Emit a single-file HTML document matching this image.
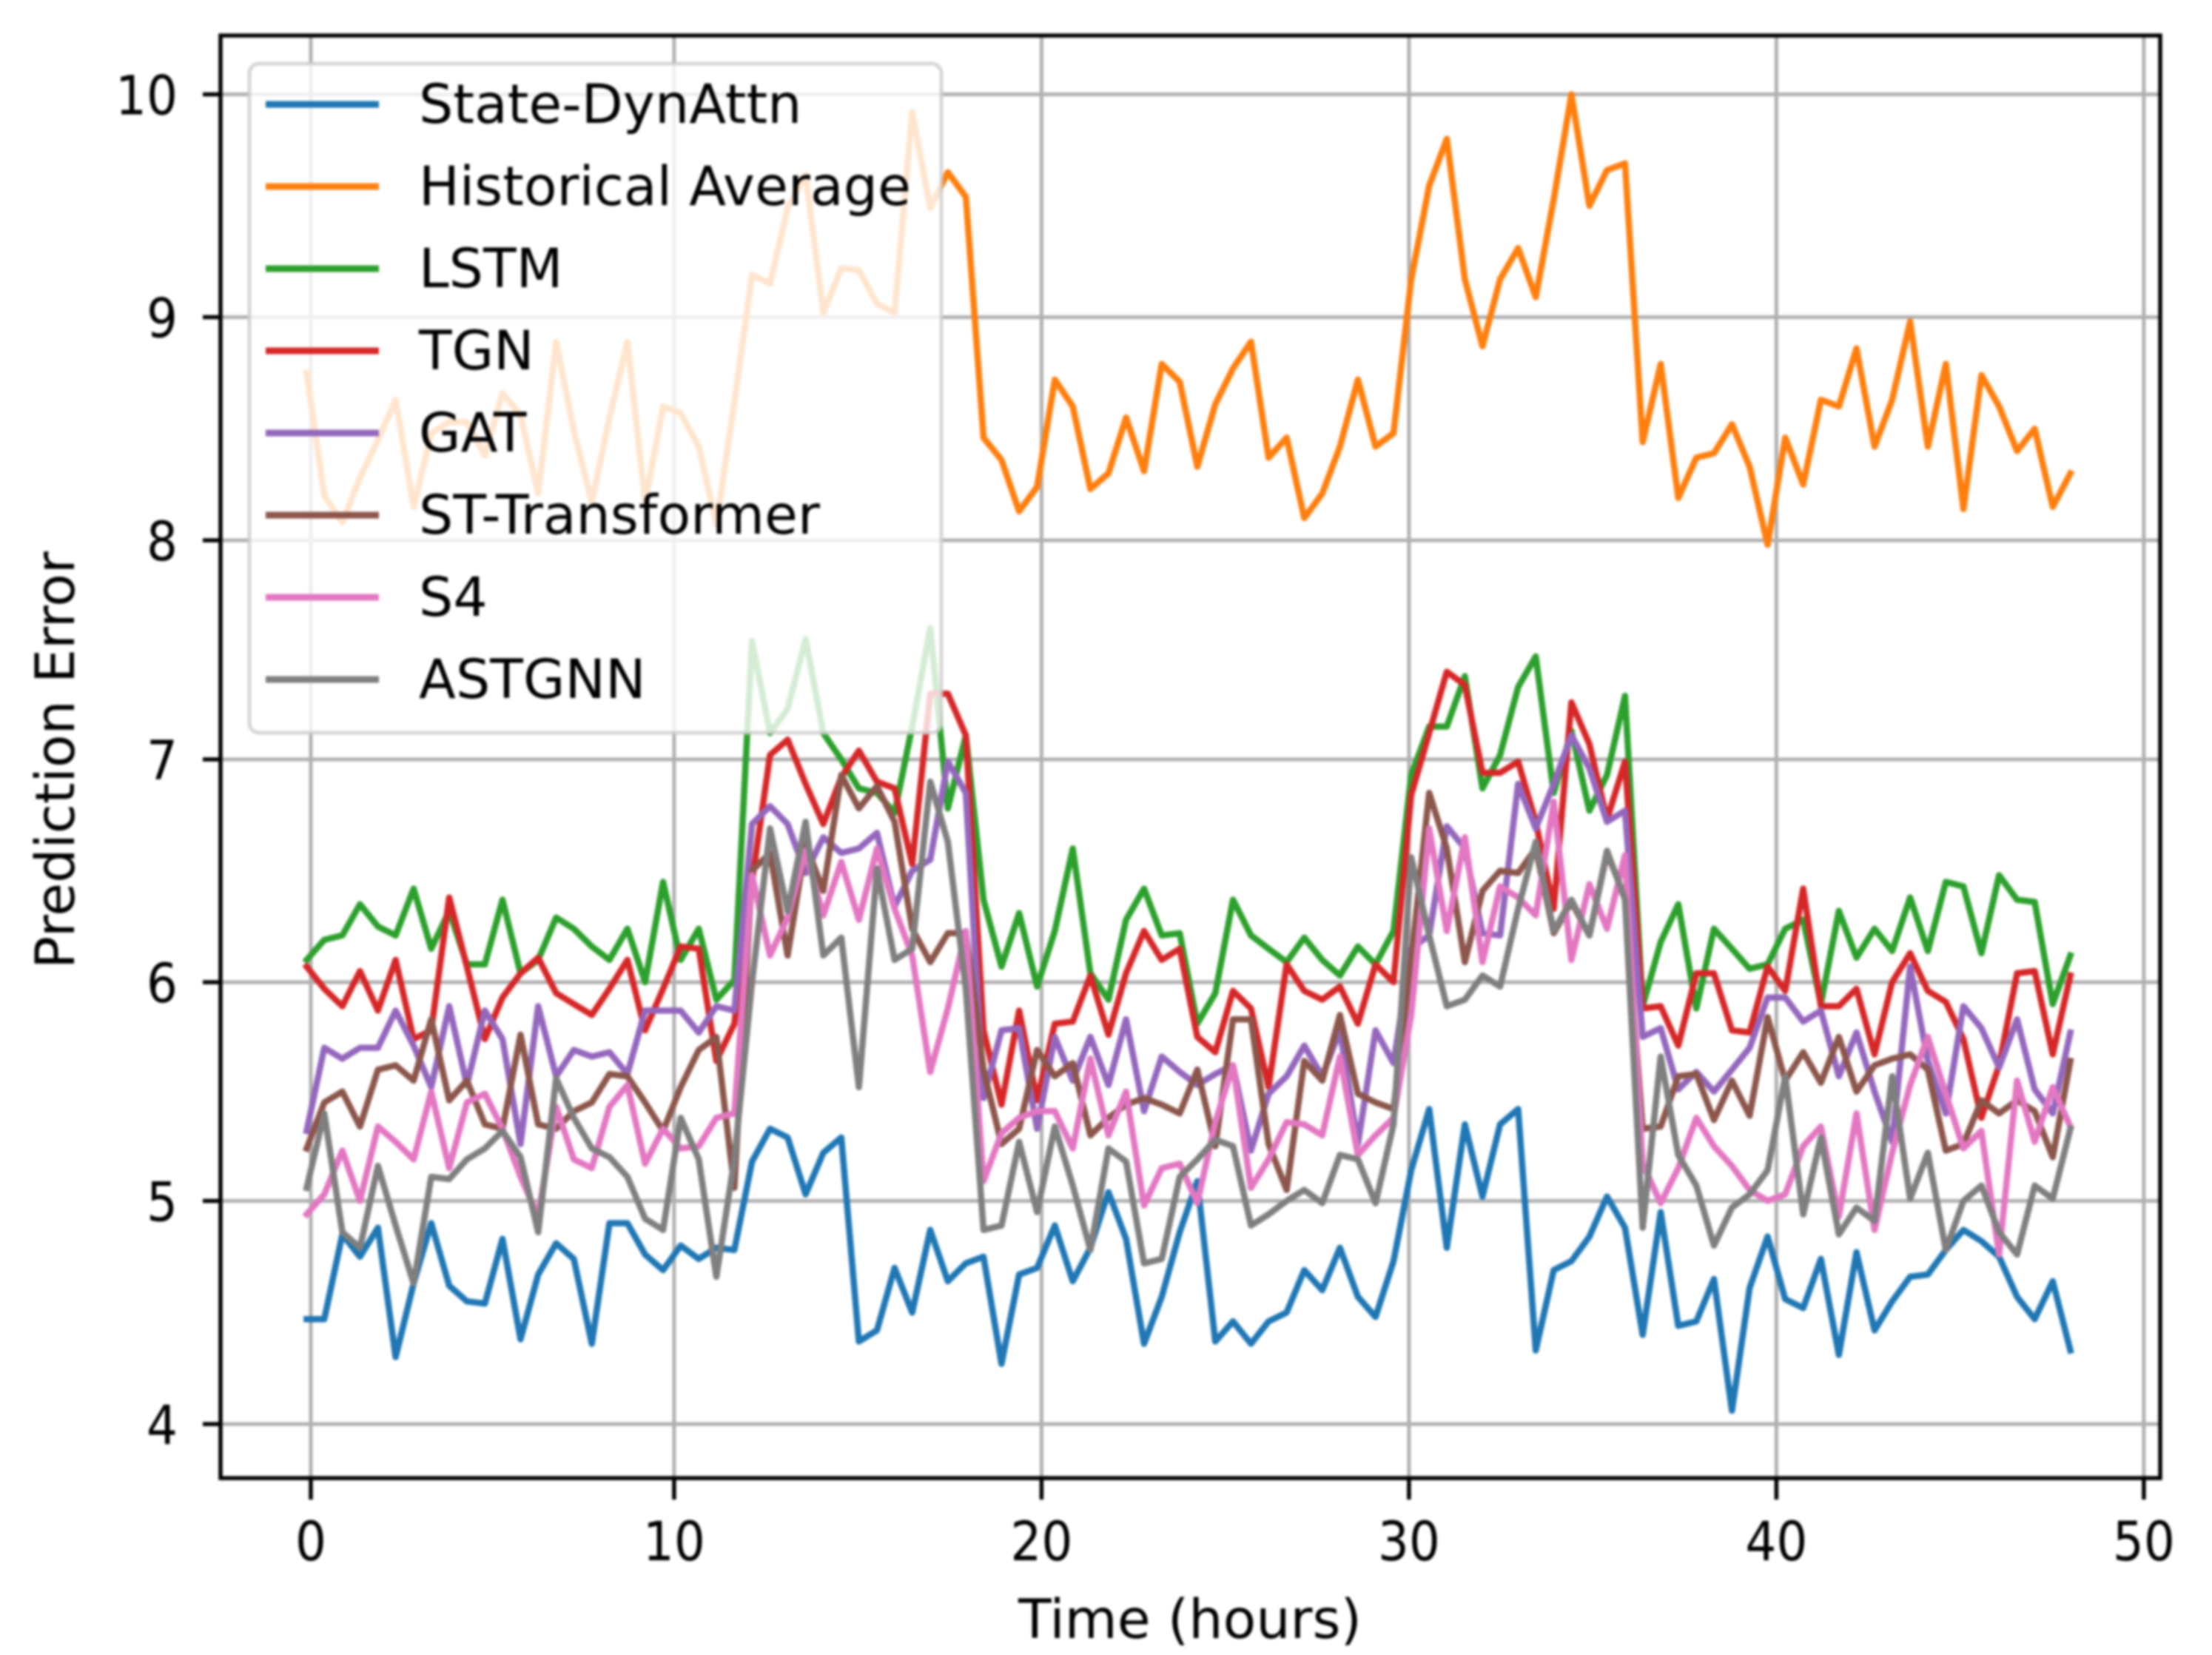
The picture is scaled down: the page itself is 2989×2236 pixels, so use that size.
<!DOCTYPE html>
<html lang="en">
<head>
<meta charset="utf-8">
<title>Prediction Error over Time</title>
<style>
html,body{margin:0;padding:0;background:#fff;}
#chart{display:block;width:2989px;height:2236px;filter:blur(1.6px);}
text{font-family:"DejaVu Sans","Liberation Sans",sans-serif;font-size:73px;fill:#000;}
</style>
</head>
<body>
<svg id="chart" xmlns="http://www.w3.org/2000/svg" width="2989" height="2236" viewBox="0 0 2989 2236">
  <rect x="0" y="0" width="2989" height="2236" fill="#fff"/>
  <g id="grid"></g>
  <g id="series"></g>
  <g id="ticks"></g>
  <g id="spines" fill="none" stroke="#000" stroke-width="5.5">
    <rect x="298" y="48" width="2621" height="1949"/>
  </g>
  <g id="legend">
    <rect x="337" y="86" width="935" height="904" rx="13" ry="13" fill="#fff" fill-opacity="0.8" stroke="#ccc" stroke-opacity="0.8" stroke-width="5"/>
  </g>
  <text x="1608" y="2213" text-anchor="middle">Time (hours)</text>
  <text transform="translate(100 1027) rotate(-90)" text-anchor="middle">Prediction Error</text>
</svg>
<script>
const hours=[0,.48,.97,1.45,1.94,2.42,2.91,3.39,3.88,4.36,4.85,5.33,5.82,6.30,6.79,7.27,7.76,8.24,8.73,9.21,9.70,10.18,10.67,11.15,11.64,12.12,12.61,13.09,13.58,14.06,14.55,15.03,15.52,16.00,16.48,16.97,17.45,17.94,18.42,18.91,19.39,19.88,20.36,20.85,21.33,21.82,22.30,22.79,23.27,23.76,24.24,24.73,25.21,25.70,26.18,26.67,27.15,27.64,28.12,28.61,29.09,29.58,30.06,30.55,31.03,31.52,32.00,32.48,32.97,33.45,33.94,34.42,34.91,35.39,35.88,36.36,36.85,37.33,37.82,38.30,38.79,39.27,39.76,40.24,40.73,41.21,41.70,42.18,42.67,43.15,43.64,44.12,44.61,45.09,45.58,46.06,46.55,47.03,47.52,48];
const xTickLabels=[0,10,20,30,40,50];
const yTickLabels=[4,5,6,7,8,9,10];
const seriesNames=["State-DynAttn","Historical Average","LSTM","TGN","GAT","ST-Transformer","S4","ASTGNN"];
const stateDynAttn=[4.47,4.47,4.85,4.75,4.88,4.30,4.63,4.90,4.62,4.55,4.54,4.83,4.38,4.67,4.81,4.74,4.36,4.90,4.90,4.76,4.69,4.80,4.74,4.79,4.78,5.18,5.33,5.29,5.03,5.22,5.29,4.37,4.42,4.70,4.50,4.87,4.64,4.72,4.75,4.27,4.67,4.70,4.89,4.64,4.79,5.04,4.83,4.36,4.57,4.86,5.09,4.37,4.46,4.36,4.46,4.50,4.69,4.60,4.79,4.57,4.48,4.73,5.14,5.42,4.79,5.35,5.02,5.35,5.42,4.33,4.69,4.73,4.84,5.02,4.88,4.40,4.95,4.44,4.46,4.65,4.06,4.61,4.84,4.56,4.52,4.74,4.31,4.77,4.42,4.55,4.66,4.67,4.78,4.87,4.82,4.75,4.57,4.47,4.64,4.33];
const historicalAverage=[8.75,8.20,8.08,8.28,8.45,8.63,8.15,8.48,8.53,8.53,8.38,8.66,8.56,8.21,8.89,8.49,8.17,8.55,8.89,8.17,8.60,8.57,8.42,8.07,8.62,9.19,9.15,9.49,9.64,9.02,9.22,9.21,9.06,9.02,9.92,9.49,9.65,9.54,8.46,8.36,8.13,8.24,8.72,8.60,8.23,8.30,8.55,8.31,8.79,8.71,8.33,8.61,8.77,8.89,8.37,8.46,8.10,8.21,8.42,8.72,8.42,8.48,9.17,9.59,9.80,9.17,8.87,9.17,9.31,9.09,9.53,10.0,9.50,9.66,9.69,8.44,8.79,8.19,8.37,8.39,8.52,8.33,7.98,8.46,8.25,8.63,8.60,8.86,8.42,8.63,8.98,8.42,8.79,8.14,8.74,8.60,8.40,8.50,8.15,8.30];
const lstm=[6.10,6.19,6.21,6.35,6.25,6.21,6.42,6.15,6.32,6.08,6.08,6.37,6.04,6.10,6.29,6.24,6.16,6.10,6.24,6.00,6.45,6.10,6.24,5.92,6.01,7.54,7.12,7.23,7.55,7.12,7.00,6.87,6.85,6.76,7.15,7.60,6.78,7.11,6.37,6.07,6.31,5.98,6.23,6.60,6.04,5.92,6.28,6.42,6.21,6.22,5.81,5.95,6.37,6.21,6.15,6.09,6.20,6.10,6.03,6.16,6.08,6.23,6.93,7.15,7.15,7.38,6.87,7.02,7.33,7.47,6.85,7.13,6.77,6.93,7.29,5.89,6.18,6.35,5.88,6.24,6.15,6.06,6.08,6.24,6.28,5.90,6.32,6.11,6.24,6.14,6.38,6.14,6.45,6.43,6.13,6.48,6.37,6.36,5.90,6.12];
const tgn=[6.07,5.97,5.89,6.05,5.87,6.10,5.74,5.78,6.38,6.07,5.74,5.93,6.04,6.11,5.95,5.90,5.85,5.97,6.10,5.78,5.97,6.16,6.15,5.64,5.81,6.45,7.02,7.09,6.89,6.71,6.92,7.04,6.90,6.87,6.53,7.30,7.30,7.11,5.78,5.44,5.87,5.46,5.81,5.82,6.03,5.76,6.04,6.23,6.10,6.15,5.75,5.68,5.96,5.88,5.52,6.08,5.96,5.92,5.98,5.81,6.08,6.00,6.84,7.12,7.40,7.34,6.94,6.94,6.99,6.72,6.33,7.26,7.07,6.73,6.99,5.88,5.89,5.71,6.04,6.04,5.78,5.77,6.07,5.96,6.42,5.89,5.89,5.97,5.67,6.00,6.13,5.96,5.91,5.74,5.38,5.62,6.04,6.05,5.67,6.03];
const gat=[5.32,5.70,5.65,5.70,5.70,5.87,5.71,5.52,5.89,5.53,5.87,5.74,5.26,5.89,5.57,5.69,5.66,5.68,5.58,5.87,5.87,5.87,5.77,5.89,5.87,6.71,6.79,6.71,6.49,6.65,6.58,6.60,6.67,6.34,6.50,6.55,6.99,6.85,5.47,5.78,5.79,5.33,5.75,5.55,5.75,5.53,5.83,5.41,5.66,5.59,5.53,5.58,5.62,5.23,5.49,5.57,5.71,5.57,5.78,5.26,5.78,5.63,6.15,6.21,6.70,6.60,6.22,6.21,6.89,6.69,6.89,7.11,6.96,6.72,6.77,5.75,5.79,5.51,5.59,5.50,5.60,5.70,5.93,5.93,5.82,5.87,5.57,5.77,5.50,5.27,6.07,5.64,5.40,5.89,5.79,5.61,5.83,5.51,5.40,5.77];
const stTransformer=[5.24,5.45,5.50,5.34,5.60,5.62,5.55,5.83,5.46,5.55,5.35,5.33,5.76,5.35,5.33,5.41,5.45,5.58,5.57,5.45,5.32,5.52,5.69,5.75,5.06,6.50,6.58,6.12,6.62,6.41,6.93,6.78,6.88,6.72,6.24,6.09,6.22,6.22,5.60,5.26,5.33,5.69,5.57,5.63,5.30,5.38,5.44,5.47,5.44,5.40,5.60,5.25,5.83,5.83,5.26,5.05,5.64,5.55,5.85,5.49,5.45,5.42,6.10,6.85,6.60,6.09,6.41,6.50,6.49,6.60,6.22,6.36,6.21,6.58,6.38,5.33,5.34,5.57,5.58,5.37,5.55,5.39,5.84,5.55,5.68,5.54,5.75,5.50,5.62,5.65,5.67,5.60,5.23,5.26,5.46,5.40,5.46,5.41,5.20,5.64];
const s4=[4.94,5.03,5.23,5.00,5.34,5.27,5.19,5.50,5.15,5.45,5.49,5.33,5.11,4.93,5.43,5.19,5.15,5.43,5.53,5.17,5.33,5.24,5.25,5.38,5.40,6.48,6.12,6.29,6.59,6.30,6.54,6.28,6.60,6.33,6.12,5.59,5.88,6.23,5.09,5.31,5.38,5.41,5.41,5.24,5.65,5.30,5.50,4.98,5.15,5.17,4.99,5.36,5.62,5.06,5.19,5.36,5.35,5.30,5.66,5.21,5.30,5.38,5.85,6.69,6.23,6.65,6.09,6.43,6.38,6.30,6.81,6.10,6.44,6.24,6.57,5.17,4.99,5.15,5.38,5.25,5.16,5.05,5.00,5.03,5.25,5.34,4.93,5.40,4.87,5.22,5.53,5.75,5.49,5.24,5.32,4.76,5.55,5.27,5.52,5.34];
const astgnn=[5.06,5.40,4.86,4.79,5.16,4.89,4.63,5.11,5.10,5.19,5.24,5.32,5.20,4.86,5.56,5.38,5.24,5.20,5.11,4.92,4.87,5.38,5.19,4.66,5.19,6.00,6.69,6.32,6.72,6.12,6.20,5.52,6.51,6.10,6.15,6.90,6.63,5.97,4.87,4.89,5.27,4.95,5.34,5.07,4.78,5.24,5.18,4.72,4.74,5.11,5.19,5.28,5.25,4.89,4.94,5.00,5.05,4.99,5.21,5.19,4.99,5.35,6.56,6.21,5.89,5.92,6.03,5.98,6.33,6.63,6.23,6.37,6.21,6.59,6.37,4.88,5.66,5.21,5.07,4.80,4.97,5.03,5.14,5.57,4.94,5.29,4.85,4.97,4.91,5.57,5.01,5.22,4.78,5.00,5.07,4.86,4.76,5.07,5.01,5.33];
const seriesValues=[stateDynAttn,historicalAverage,lstm,tgn,gat,stTransformer,s4,astgnn];
const seriesColors=["#1f77b4","#ff7f0e","#2ca02c","#d62728","#9467bd","#8c564b","#e377c2","#7f7f7f"];

const NS="http://www.w3.org/2000/svg";
function xScale(h){return 414.4+49.65*h;}
function yScale(v){
  const stops=[1924,1622.5,1327,1026,730,428.5,127.5];
  const k=Math.max(0,Math.min(5,Math.floor(v-4)));
  return stops[k]+(stops[k+1]-stops[k])*(v-4-k);
}
function make(tag,attrs,parent){
  const el=document.createElementNS(NS,tag);
  for(const k in attrs){el.setAttribute(k,attrs[k]);}
  parent.appendChild(el);
  return el;
}
function tickWidth(t){return String(t).length*42;}
const gridG=document.getElementById("grid");
const ticksG=document.getElementById("ticks");
const seriesG=document.getElementById("series");
const legendG=document.getElementById("legend");

xTickLabels.forEach(function(t){
  const px=xScale(t)+(t===0?5.6:0);
  const g=make("line",{x1:px,x2:px,y1:48,y2:1997,stroke:"#b0b0b0","stroke-width":5},gridG);
  
  
  const m=make("line",{x1:px,x2:px,y1:1997,y2:2026,stroke:"#000","stroke-width":5.5},ticksG);
  
  
  const l=make("text",{x:px,y:2108,"text-anchor":"middle",textLength:tickWidth(t),lengthAdjust:"spacingAndGlyphs"},ticksG);
  l.textContent=String(t);
  
  
});
yTickLabels.forEach(function(t){
  const py=yScale(t);
  const g=make("line",{x1:298,x2:2919,y1:py,y2:py,stroke:"#b0b0b0","stroke-width":5},gridG);
  
  
  const m=make("line",{x1:274,x2:298,y1:py,y2:py,stroke:"#000","stroke-width":5.5},ticksG);
  
  
  const l=make("text",{x:240,y:py+27,"text-anchor":"end",textLength:tickWidth(t),lengthAdjust:"spacingAndGlyphs"},ticksG);
  l.textContent=String(t);
  
  
});
seriesValues.forEach(function(vals,s){
  const pts=vals.map(function(v,i){return xScale(hours[i]).toFixed(1)+","+yScale(v).toFixed(1);}).join(" ");
  const line=make("polyline",{points:pts,fill:"none",stroke:seriesColors[s],"stroke-width":8.5,"stroke-linejoin":"round","stroke-linecap":"square"},seriesG);
  
  
  const rowY=141+111*s;
  const handle=make("line",{x1:359,x2:512,y1:rowY,y2:rowY,stroke:seriesColors[s],"stroke-width":9},legendG);
  
  
  const label=make("text",{x:566,y:rowY+25},legendG);
  label.textContent=seriesNames[s];
  
  
});
</script>
</body>
</html>
